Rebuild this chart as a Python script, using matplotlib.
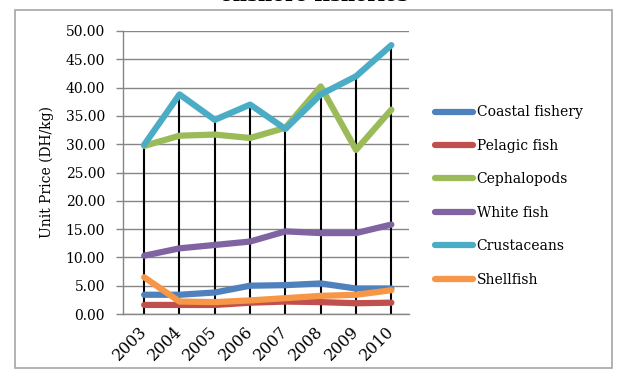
import matplotlib
matplotlib.use("Agg")
import matplotlib.pyplot as plt
from matplotlib.patches import Rectangle
import numpy as np

years = ["2003", "2004", "2005", "2006", "2007", "2008", "2009", "2010"]
coastal = [3.4, 3.4, 3.8, 5.0, 5.1, 5.4, 4.5, 4.5]
pelagic = [1.6, 1.6, 1.6, 2.0, 2.2, 2.1, 1.9, 2.0]
cephalopods = [29.7, 31.5, 31.7, 31.1, 32.9, 40.2, 29.0, 36.1]
white_fish = [10.3, 11.6, 12.2, 12.8, 14.6, 14.3, 14.3, 15.8]
crustaceans = [29.9, 38.8, 34.3, 37.0, 32.7, 38.8, 42.0, 47.5]
shellfish = [6.5, 2.2, 2.1, 2.4, 2.8, 3.2, 3.4, 4.2]

series_names = ["Coastal fishery", "Pelagic fish", "Cephalopods", "White fish", "Crustaceans", "Shellfish"]
series_vals = [coastal, pelagic, cephalopods, white_fish, crustaceans, shellfish]
colors = ["#4F81BD", "#C0504D", "#9BBB59", "#8064A2", "#4BACC6", "#F79646"]
title_text = "onshore fisheries"
ylabel_text = "Unit Price (DH/kg)"
yticks = [0, 5, 10, 15, 20, 25, 30, 35, 40, 45, 50]

plt.rcParams['font.family'] = ['DejaVu Serif']

W, H = 622, 372
fig = plt.figure(figsize=(W / 100, H / 100), dpi=100)
fig.patch.set_facecolor("white")

# outer border
fig.patches.append(Rectangle((15 / W, 1 - 368 / H), (612 - 15) / W, (368 - 10) / H,
                             transform=fig.transFigure, fill=False,
                             edgecolor="#a6a6a6", linewidth=1.2))

fig.text(314 / W, 1 - 1 / H, title_text, ha="center", va="baseline",
         fontsize=14, fontweight="bold")

ax = fig.add_axes([123 / W, 1 - 314 / H, (409 - 123) / W, (314 - 31) / H])
x = np.arange(len(years))

# drop lines
tops = np.max(np.array(series_vals), axis=0)
ax.vlines(x, 0, tops, colors="black", linewidth=1.5, zorder=2)

for name, vals, c in zip(series_names, series_vals, colors):
    ax.plot(x, vals, color=c, linewidth=4.5, label=name, zorder=3,
            solid_capstyle="round", solid_joinstyle="round")

ax.set_xlim(-0.6, 7.5)
ax.set_ylim(0, 50)
ax.set_yticks(yticks)
ax.set_yticklabels([f"{v:.2f}" for v in yticks], fontsize=10)
ax.set_xticks(x)
ax.set_xticklabels(years, fontsize=11.5, rotation=45, ha="right",
                   rotation_mode="anchor", va="center")
ax.tick_params(axis="x", length=0, pad=11)
ax.tick_params(axis="y", length=5, width=1, color="#868686", pad=8, direction="out")
ax.grid(axis="y", color="#868686", linewidth=1)
ax.set_axisbelow(True)
for s in ["top", "right"]:
    ax.spines[s].set_visible(False)
for s in ["left", "bottom"]:
    ax.spines[s].set_color("#868686")
    ax.spines[s].set_linewidth(1)
ax.set_facecolor("none")
ax.set_ylabel(ylabel_text, fontsize=10, labelpad=8)

leg = fig.legend(loc="center left", bbox_to_anchor=(435 / W, 1 - 196 / H),
                 frameon=False, fontsize=10, handlelength=2.7,
                 labelspacing=1.4, borderpad=0, borderaxespad=0, handletextpad=0.3)

fig.savefig("out.png", dpi=100)
